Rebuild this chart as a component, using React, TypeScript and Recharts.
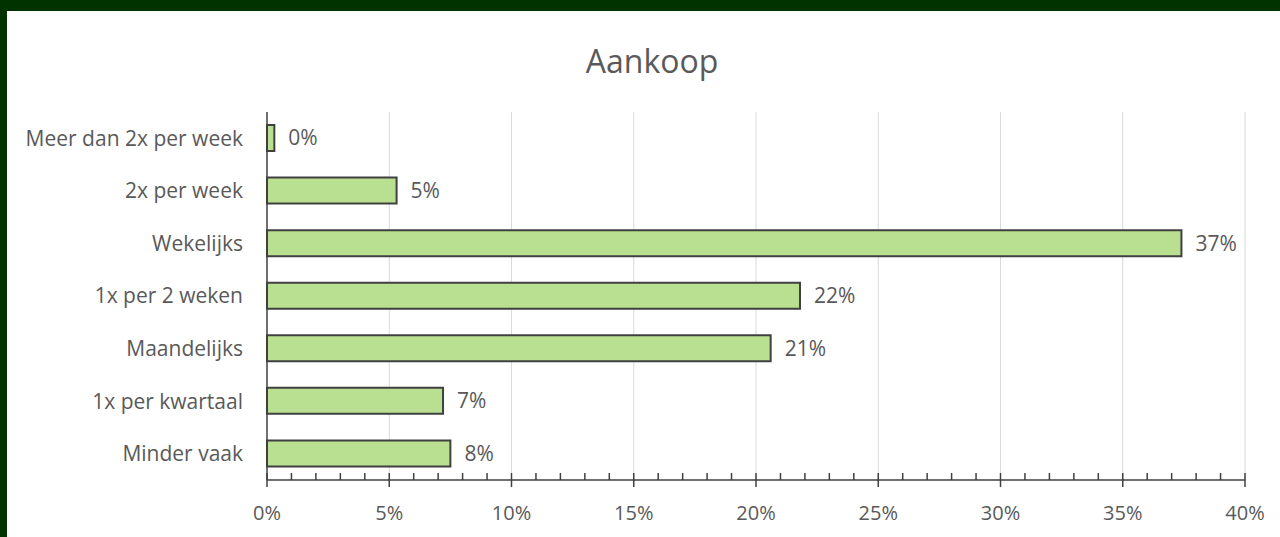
import { BarChart, Bar, XAxis, YAxis, CartesianGrid, LabelList } from "recharts";

const categories = [
  "Meer dan 2x per week",
  "2x per week",
  "Wekelijks",
  "1x per 2 weken",
  "Maandelijks",
  "1x per kwartaal",
  "Minder vaak",
];
const aankoop = [0.3, 5.3, 37.4, 21.8, 20.6, 7.2, 7.5];
const xMax = 40;
const majorTicks = [0, 5, 10, 15, 20, 25, 30, 35, 40];
const allTicks = [
  0, 1, 2, 3, 4, 5, 6, 7, 8, 9, 10, 11, 12, 13, 14, 15, 16, 17, 18, 19, 20,
  21, 22, 23, 24, 25, 26, 27, 28, 29, 30, 31, 32, 33, 34, 35, 36, 37, 38, 39, 40,
];

const data = categories.map((name, i) => ({ name, value: aankoop[i] }));

const textColor = "#595959";
const axisColor = "#404040";
const font = "'Open Sans', sans-serif";

const XTick = (props: any) => {
  const { x, y, payload } = props;
  const v = payload.value;
  const major = majorTicks.includes(v);
  return (
    <g>
      <line x1={x} x2={x} y1={y - 7} y2={major ? y + 7 : y} stroke={axisColor} strokeWidth={1.5} />
      {major && (
        <text x={x} y={y + 32} textAnchor="middle" dominantBaseline="central" fill={textColor} fontSize={20} fontFamily={font}>
          {v}%
        </text>
      )}
    </g>
  );
};

// grid only on the major ticks, minor ticks get none
const gridX = ({ offset }: any) => majorTicks.slice(1).map((t) => offset.left + (offset.width * t) / xMax);

export default function App() {
  return (
    <div style={{ position: "absolute", left: 0, top: 0, width: 1280, height: 537, background: "#003300", overflow: "hidden" }}>
      <div style={{ position: "absolute", left: 7, top: 11, width: 1273, height: 526, background: "#fff" }}>
        <BarChart
          width={1273}
          height={526}
          data={data}
          layout="vertical"
          margin={{ top: 101, right: 35, left: 0, bottom: 27 }}
          style={{ fontFamily: font }}
        >
          <CartesianGrid horizontal={false} stroke="#d9d9d9" verticalCoordinatesGenerator={gridX} />
          <XAxis
            type="number"
            domain={[0, xMax]}
            ticks={allTicks}
            interval={0}
            tickLine={false}
            tickSize={0}
            tickMargin={0}
            height={30}
            axisLine={{ stroke: axisColor, strokeWidth: 1.5 }}
            tick={<XTick />}
          />
          <YAxis
            type="category"
            dataKey="name"
            width={260}
            tickLine={false}
            tickSize={0}
            tickMargin={24}
            axisLine={{ stroke: axisColor, strokeWidth: 1.5 }}
            tick={{ fill: textColor, fontSize: 21, fontFamily: font }}
          />
          <Bar dataKey="value" fill="#b9df90" stroke={axisColor} strokeWidth={2} barSize={26} isAnimationActive={false}>
            <LabelList
              dataKey="value"
              position="right"
              offset={14}
              formatter={(v: any) => `${Math.round(Number(v))}%`}
              fill={textColor}
              fontSize={21}
              fontFamily={font}
            />
          </Bar>
        </BarChart>
        <div
          style={{
            position: "absolute",
            left: 545,
            top: 34,
            width: 200,
            textAlign: "center",
            fontFamily: font,
            fontSize: 32,
            lineHeight: 1,
            color: textColor,
          }}
        >
          Aankoop
        </div>
      </div>
    </div>
  );
}
